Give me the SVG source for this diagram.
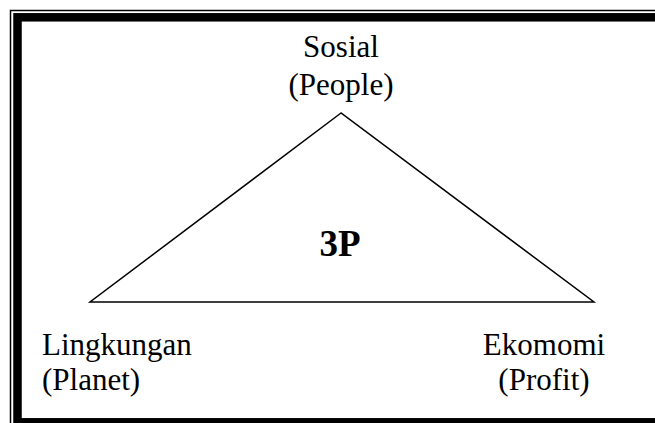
<svg xmlns="http://www.w3.org/2000/svg" width="655" height="423" viewBox="0 0 655 423">
<style>
.t{font-family:"Liberation Serif","Times New Roman",serif;font-size:31px;fill:#000}
.b{font-family:"Liberation Serif","Times New Roman",serif;font-size:37px;font-weight:bold;fill:#000}
</style>
<rect width="655" height="423" fill="#fff"/>
<g id="border" fill="none" stroke="#000">
<rect x="10.5" y="10.5" width="700" height="450" stroke-width="1.5"/>
<rect x="17.5" y="17.3" width="700" height="405" stroke-width="8.5"/>
</g>
<g id="connectors">
<polygon points="341,113 90,302 594,302" fill="none" stroke="#000" stroke-width="1.5"/>
</g>
<g id="node-sosial"><text class="t" x="341" y="57" text-anchor="middle">Sosial</text><text class="t" x="341" y="95" text-anchor="middle">(People)</text></g>
<g id="node-3p"><text class="b" x="340" y="256" text-anchor="middle">3P</text></g>
<g id="node-lingkungan"><text class="t" x="42" y="355">Lingkungan</text><text class="t" x="42" y="390">(Planet)</text></g>
<g id="node-ekonomi"><text class="t" x="544" y="355" text-anchor="middle">Ekomomi</text><text class="t" x="544" y="390" text-anchor="middle">(Profit)</text></g>
</svg>
